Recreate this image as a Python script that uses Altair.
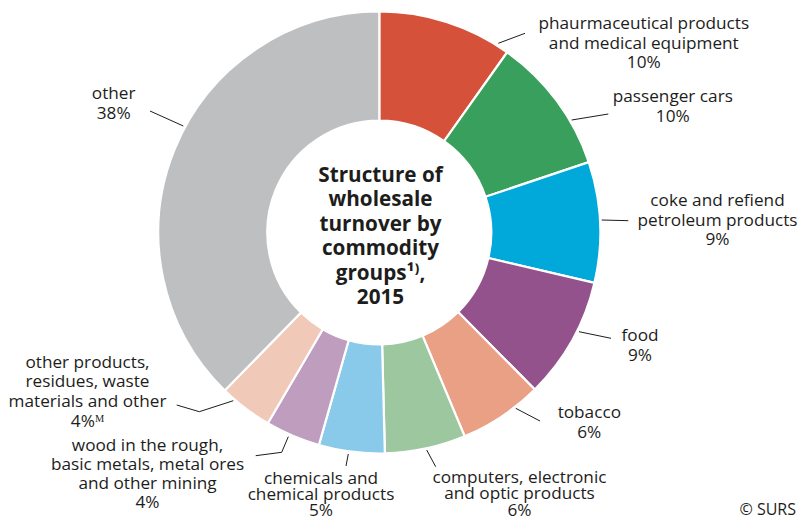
import altair as alt
import pandas as pd

# ---------------- data ----------------
categories = [
    "pharmaceutical products and medical equipment",
    "passenger cars",
    "coke and refined petroleum products",
    "food",
    "tobacco",
    "computers, electronic and optic products",
    "chemicals and chemical products",
    "wood in the rough, basic metals, metal ores and other mining",
    "other products, residues, waste materials and other",
    "other",
]
values = [9.8, 10.0, 8.8, 8.9, 6.1, 5.9, 4.8, 4.0, 3.9, 37.6]
colors = ["#D6513A", "#38A05C", "#00A9D9", "#94528C", "#E9A085",
          "#9CC79F", "#89CAEA", "#BF9DBF", "#F1C9B8", "#BEBFC1"]
label_lines = [
    ["phaurmaceutical products", "and medical equipment", "10%"],
    ["passenger cars", "10%"],
    ["coke and refiend", "petroleum products", "9%"],
    ["food", "9%"],
    ["tobacco", "6%"],
    ["computers, electronic", "and optic products", "6%"],
    ["chemicals and", "chemical products", "5%"],
    ["wood in the rough,", "basic metals, metal ores", "and other mining", "4%"],
    ["other products,", "residues, waste", "materials and other", "4%\u1D39"],
    ["other", "38%"],
]
center_title = ["Structure of", "wholesale", "turnover by", "commodity",
                "groups\u00B9\u207E,", "2015"]
source_note = "\u00A9 SURS"

# ---------------- layout ----------------
W, H = 789, 511
CX, CY = 371.3, 224.5
R_OUT, R_IN = 221, 112
FONT = "Open Sans"
TXT = "#1d1d1b"
LABEL_SIZE = 17.2

# first-line centre and line spacing of each label block (chart pixels)
label_anchor = [
    (635.8, 16.0, 19.7), (664.8, 89.0, 19.7), (709.5, 193.0, 19.7),
    (632.0, 328.0, 19.7), (581.3, 405.0, 19.7), (511.5, 470.0, 16.3),
    (313.0, 470.5, 16.1), (139.5, 437.5, 19.2), (79.5, 354.5, 19.7),
    (105.7, 86.3, 19.7),
]
leaders = [
    [(490.3, 35.3), (517.0, 25.3)],
    [(563.7, 112.0), (600.3, 106.0)],
    [(593.7, 212.0), (620.3, 212.7)],
    [(571.0, 323.7), (603.0, 330.3)],
    [(507.7, 400.3), (532.0, 413.0)],
    [(418.7, 442.0), (427.7, 458.7)],
    [(340.3, 446.0), (338.0, 458.0)],
    [(280.3, 428.7), (273.7, 444.3), (247.7, 447.7)],
    [(225.3, 392.7), (191.3, 403.7), (168.7, 397.0)],
    [(142.0, 103.0), (175.3, 118.0)],
]
TITLE_X, TITLE_Y0, TITLE_LINE_H = 372.5, 168.0, 24.4
NOTE_X, NOTE_Y = 788.0, 502.0

# ---------------- tables ----------------
pie_df = pd.DataFrame({"cat": categories, "value": values,
                       "order": list(range(len(categories)))})

rows = []
for lines, (ax, ay, lh) in zip(label_lines, label_anchor):
    for i, t in enumerate(lines):
        rows.append({"x": ax, "y": ay + i * lh, "text": t})
lab_df = pd.DataFrame(rows)

trows = [{"x": TITLE_X, "y": TITLE_Y0 + i * TITLE_LINE_H, "text": t}
         for i, t in enumerate(center_title)]
title_df = pd.DataFrame(trows)

lrows = []
for k, pts in enumerate(leaders):
    for j, (px, py) in enumerate(pts):
        lrows.append({"id": k, "pt": j, "x": px, "y": py})
lead_df = pd.DataFrame(lrows)

note_df = pd.DataFrame([{"x": NOTE_X, "y": NOTE_Y, "text": source_note}])

xs = alt.Scale(domain=[0, W], nice=False, zero=False)
ys = alt.Scale(domain=[H, 0], nice=False, zero=False)

pie = alt.Chart(pie_df).mark_arc(
    outerRadius=R_OUT, innerRadius=R_IN, stroke="white", strokeWidth=2.2
).encode(
    theta=alt.Theta("value:Q", stack=True),
    color=alt.Color("cat:N", scale=alt.Scale(domain=categories, range=colors), legend=None),
    order=alt.Order("order:Q"),
    x=alt.value(CX),
    y=alt.value(CY),
)

leader = alt.Chart(lead_df).mark_line(color="#1d1d1b", strokeWidth=1).encode(
    x=alt.X("x:Q", scale=xs, axis=None),
    y=alt.Y("y:Q", scale=ys, axis=None),
    detail="id:N",
    order="pt:Q",
)

labels = alt.Chart(lab_df).mark_text(
    font=FONT, fontSize=LABEL_SIZE, color=TXT, align="center", baseline="middle"
).encode(
    x=alt.X("x:Q", scale=xs, axis=None),
    y=alt.Y("y:Q", scale=ys, axis=None),
    text="text:N",
)

title = alt.Chart(title_df).mark_text(
    font=FONT, fontSize=20.7, fontWeight="bold", color=TXT, align="center", baseline="middle"
).encode(
    x=alt.X("x:Q", scale=xs, axis=None),
    y=alt.Y("y:Q", scale=ys, axis=None),
    text="text:N",
)

note = alt.Chart(note_df).mark_text(
    font=FONT, fontSize=16, color=TXT, align="right", baseline="middle"
).encode(
    x=alt.X("x:Q", scale=xs, axis=None),
    y=alt.Y("y:Q", scale=ys, axis=None),
    text="text:N",
)

chart = alt.layer(pie, leader, labels, title, note).properties(
    width=W, height=H, padding=0, autosize=alt.AutoSizeParams(type="none"),
    background="white",
).configure_view(stroke=None)

chart.save("out.html", embed_options={"renderer": "svg", "actions": False})
